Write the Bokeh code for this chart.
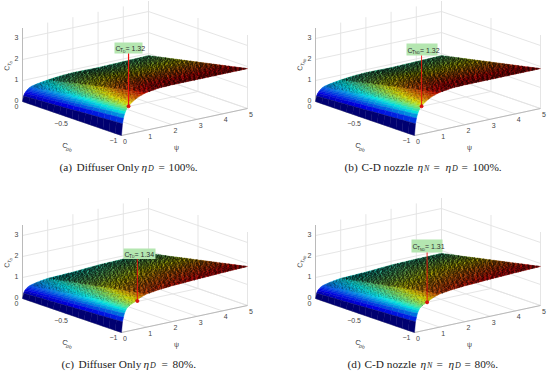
import math
import numpy as np
from bokeh.plotting import figure
from bokeh.layouts import gridplot
from bokeh.embed import file_html
from bokeh.resources import INLINE
from bokeh.core.properties import value

# ---- values ----
psi_rows = [0, .04, .08, .12, .16, .2, .24, .28, .36, .5, .7, 1, 1.5, 2, 3, 4, 5]
cpb_rows = [0, -0.5, -1]
far_100 = [0, .25, .36, .42, .47, .52, .56, .59, .63, .67, .72, .77, .83, .86, .84, .87, .90]
mid_100 = [0, .40, .58, .70, .78, .86, .91, .96, 1.02, 1.11, 1.20, 1.29, 1.36, 1.38, 1.37, 1.38, 1.40]
near_100 = [0, .55, .80, .98, 1.10, 1.20, 1.27, 1.33, 1.42, 1.55, 1.68, 1.80, 1.88, 1.90, 1.90, 1.90, 1.90]
far_80 = [0, .24, .34, .40, .44, .48, .51, .53, .56, .60, .65, .70, .72, .74, .82, .85, .86]
mid_80 = [0, .37, .52, .64, .72, .78, .82, .85, .90, .96, 1.05, 1.14, 1.19, 1.22, 1.30, 1.33, 1.36]
near_80 = [0, .50, .70, .88, 1.00, 1.08, 1.13, 1.17, 1.24, 1.31, 1.45, 1.58, 1.66, 1.71, 1.77, 1.82, 1.86]

marker_psi = [.28, .28, .63, .50]
marker_val = [1.32, 1.32, 1.34, 1.31]
marker_txt = ["= 1.32", "= 1.32", "= 1.34", "= 1.31"]
marker_sub = ["D", "ND", "D", "ND"]

psi_ticks = [0, 1, 2, 3, 4, 5]
cpb_ticks = [0, -0.5, -1]
cpb_tick_labels = ["0", "\u22120.5", "\u22121"]
z_ticks = [0, 1, 2, 3]
z_top = 3.5
psi_max = 5

captions = [
    [("(a)", 59), ("Diffuser Only", 76), ("\u03b7", 141), ("D", 147.5), ("=", 158), ("100%.", 168)],
    [("(b)", 344), ("C-D nozzle", 361), ("\u03b7", 417), ("N", 423.5), ("=", 433), ("\u03b7", 445), ("D", 451.5), ("=", 461), ("100%.", 472)],
    [("(c)", 61), ("Diffuser Only", 78), ("\u03b7", 143), ("D", 149.5), ("=", 161), ("80%.", 172)],
    [("(d)", 347), ("C-D nozzle", 364), ("\u03b7", 420), ("N", 426.5), ("=", 436), ("\u03b7", 448), ("D", 454.5), ("=", 464), ("80%.", 474)],
]

# ---- layout of the four panels (page pixels) ----
FIG_W, FIG_H = 275, 186
panel_fig = [(0, 0), (275, 0), (0, 186), (275, 186)]
panel_shift = [(0, 0), (293, 0), (0, 197), (293, 197)]
box_rect = [(114, 142, 42, 53), (113, 144, 43, 55), (123, 155, 51, 61.5), (118, 149, 42, 55)]
CAP_Y = [166, 166, 363, 363]

SANS = value("Liberation Sans")
SERIF = value("Liberation Serif")
GREY_TXT = "#454545"


def proj(psi, cpb, z, ox, oy):
    return ox + 25.2 * np.asarray(psi) - 99.0 * np.asarray(cpb), \
        oy - 5.4 * np.asarray(psi) - 34.0 * np.asarray(cpb) - 21.0 * np.asarray(z)


def jet(t, shade=1.0):
    t = float(np.clip(t, 0, 1))
    r = np.clip(min(4 * t - 1.5, -4 * t + 4.5), 0, 1)
    g = np.clip(min(4 * t - 0.5, -4 * t + 3.5), 0, 1)
    b = np.clip(min(4 * t + 0.5, -4 * t + 2.5), 0, 1)
    return "#%02x%02x%02x" % (int(r * 255 * shade), int(g * 255 * shade), int(b * 255 * shade))


def sample(psi, cpb, table):
    rows = [np.interp(psi, psi_rows, r) for r in table]
    return np.interp(-cpb, [-c for c in cpb_rows], rows)


def halton(k, base):
    f, r = 1.0, 0.0
    while k > 0:
        f /= base
        r += f * (k % base)
        k //= base
    return r


def put(p, s, x, y, size, font=SANS, style="normal", angle=0.0, color=GREY_TXT, align="left", base="alphabetic"):
    p.text([x], [y], text=[s], text_font=font, text_font_size=f"{size}px", text_font_style=style,
           text_color=color, angle=angle, text_align=align, text_baseline=base)


def run(p, pieces, x, y, angle=0.0, color=GREY_TXT):
    c, s = math.cos(angle), math.sin(angle)
    for txt, size, adv, drop in pieces:
        put(p, txt, x + adv * c + drop * s, y - adv * s + drop * c, size, angle=angle, color=color)


figs = []
for i in range(4):
    fx, fy = panel_fig[i]
    sx, sy = panel_shift[i]
    ox, oy = 22 + sx - fx, 101 + sy - fy
    dx, dy = sx - fx, sy - fy
    table = [far_100, mid_100, near_100] if i < 2 else [far_80, mid_80, near_80]

    p = figure(width=FIG_W, height=FIG_H, x_range=(0, FIG_W), y_range=(FIG_H, 0),
               toolbar_location=None, output_backend="svg", x_axis_location=None, y_axis_location=None,
               min_border=0, outline_line_color=None, background_fill_color="white")
    p.grid.visible = False

    # walls and floor
    gx, gy = [], []
    for v in psi_ticks:
        a = proj([v, v], [0, 0], [0, z_top], ox, oy); gx.append(list(a[0])); gy.append(list(a[1]))
        a = proj([v, v], [-1, 0], [0, 0], ox, oy); gx.append(list(a[0])); gy.append(list(a[1]))
    for v in z_ticks:
        a = proj([0, psi_max], [0, 0], [v, v], ox, oy); gx.append(list(a[0])); gy.append(list(a[1]))
        a = proj([psi_max, psi_max], [0, -1], [v, v], ox, oy); gx.append(list(a[0])); gy.append(list(a[1]))
    for v in cpb_ticks:
        a = proj([psi_max, psi_max], [v, v], [0, z_top], ox, oy); gx.append(list(a[0])); gy.append(list(a[1]))
        a = proj([0, psi_max], [v, v], [0, 0], ox, oy); gx.append(list(a[0])); gy.append(list(a[1]))
    p.multi_line(gx, gy, line_color="#e2e2e2", line_width=0.9)
    # box edges
    ex, ey = [], []
    for a in (proj([0, 0], [0, 0], [0, z_top], ox, oy), proj([0, 0], [0, -1], [0, 0], ox, oy),
              proj([0, psi_max], [-1, -1], [0, 0], ox, oy)):
        ex.append(list(a[0])); ey.append(list(a[1]))
    p.multi_line(ex, ey, line_color="#b4b4b4", line_width=0.9)

    # surface: flat shaded cells, colour from the cell's lowest corner
    psi_fine = list(np.arange(0, 0.6, 0.04)) + list(np.arange(0.6, 5.0001, 0.11))
    cpb_fine = list(np.linspace(0, -1, 17))
    xs, ys, cs = [], [], []
    for a in range(len(psi_fine) - 2, -1, -1):
        for b in range(len(cpb_fine) - 1):
            P = [psi_fine[a], psi_fine[a + 1], psi_fine[a + 1], psi_fine[a]]
            C = [cpb_fine[b], cpb_fine[b], cpb_fine[b + 1], cpb_fine[b + 1]]
            Z = [sample(u, w, table) for u, w in zip(P, C)]
            X, Y = proj(P, C, Z, ox, oy)
            xs.append(list(X)); ys.append(list(Y))
            shade = 0.88 - 0.2 * min(1.0, max(0.0, P[0] - 0.3) / 0.9)
            t = sample(P[0], (C[0] + C[2]) / 2, table) / 2.3
            t = t * min(1.0, 0.62 + 0.6 * t) + 0.12 * min(P[0], 1.0)
            cs.append(jet(t, shade))
    p.patches(xs, ys, fill_color=cs, line_color=cs, line_width=0.4)

    # mesh speckle: the sub-pixel mesh edges, drawn as short dark flecks
    for lo, hi, count, keep, alpha in ((0.3, 1.0, 1500, 0.35, 0.22), (1.0, 5.0, 9000, 0.5, 0.42)):
        fx_pts, fy_pts = [], []
        for k in range(1, count):
            a1, a2, a3 = halton(k + 17, 2), halton(k + 17, 3), halton(k + 17, 5)
            u = lo + (hi - lo) * a1
            w = -a2
            if a3 > keep + 0.4 * (1 + w):
                continue
            X, Y = proj(u, w, sample(u, w, table), ox, oy)
            fx_pts += [float(X), float(X) + 1.0, float("nan")]
            fy_pts += [float(Y), float(Y), float("nan")]
        p.line(fx_pts, fy_pts, line_color="black", line_alpha=alpha, line_width=1.0)

    # tick labels
    for v in psi_ticks:
        X, Y = proj(v, -1, 0, ox, oy)
        put(p, str(v), X + 3.5, Y + 6, 7, align="center", base="middle")
    for v, lab in zip(cpb_ticks, cpb_tick_labels):
        X, Y = proj(0, v, 0, ox, oy)
        put(p, lab, X - 4, Y + 4.5, 7, align="right", base="middle")
    for v in z_ticks:
        X, Y = proj(0, 0, v, ox, oy)
        put(p, str(v), X - 4, Y - 1, 7, align="right", base="middle")

    # axis labels
    run(p, [("C", 7, 0, 0), ("pb", 5, 5, 2)], 62 + dx, 144 + dy, angle=-0.35)
    put(p, "\u03c8", 176 + dx, 147 + dy, 7, align="center", base="middle")
    sub = marker_sub[i]
    run(p, [("C", 7, 0, 0), ("T", 5, 5, 1.5), (sub, 3.5, 8, 3)], 5.5 + dx, 70 + dy, angle=1.3)

    # marker, stem and value box
    bl, br, bt, bb = box_rect[i]
    bl, br, bt, bb = bl + dx, br + dx, bt + dy, bb + dy
    MX, MY = proj(marker_psi[i], -1, marker_val[i], ox, oy)
    p.quad(left=[bl], right=[br], top=[bt], bottom=[bb], fill_color="#b4e6b0", line_color=None)
    p.line([MX, MX], [MY, bb], line_color="#ee1510", line_width=1.2 if i == 0 else 0.9)
    p.scatter([MX], [MY], size=3, color="#d8100c")
    val_x = 11 if sub == "D" else 13.5
    run(p, [("C", 7, 1, 0), ("T", 5, 5.5, 1.5), (sub, 3.5, 8.5, 3), (marker_txt[i], 7, val_x, 0)],
        bl, (bt + bb) / 2 + 0.5, color="#303030")

    # caption
    for txt, xx in captions[i]:
        is_sym = txt == "\u03b7"
        is_sub = txt in ("D", "N")
        put(p, txt, xx + dx - sx, CAP_Y[i] - fy + (2 if is_sub else 0),
            8 if is_sub else 11.3, font=SERIF, style="italic" if (is_sym or is_sub) else "normal",
            color="#222222")
    figs.append(p)

grid = gridplot([[figs[0], figs[1]], [figs[2], figs[3]]], toolbar_location=None)
open("out.html", "w").write(file_html(grid, INLINE))
